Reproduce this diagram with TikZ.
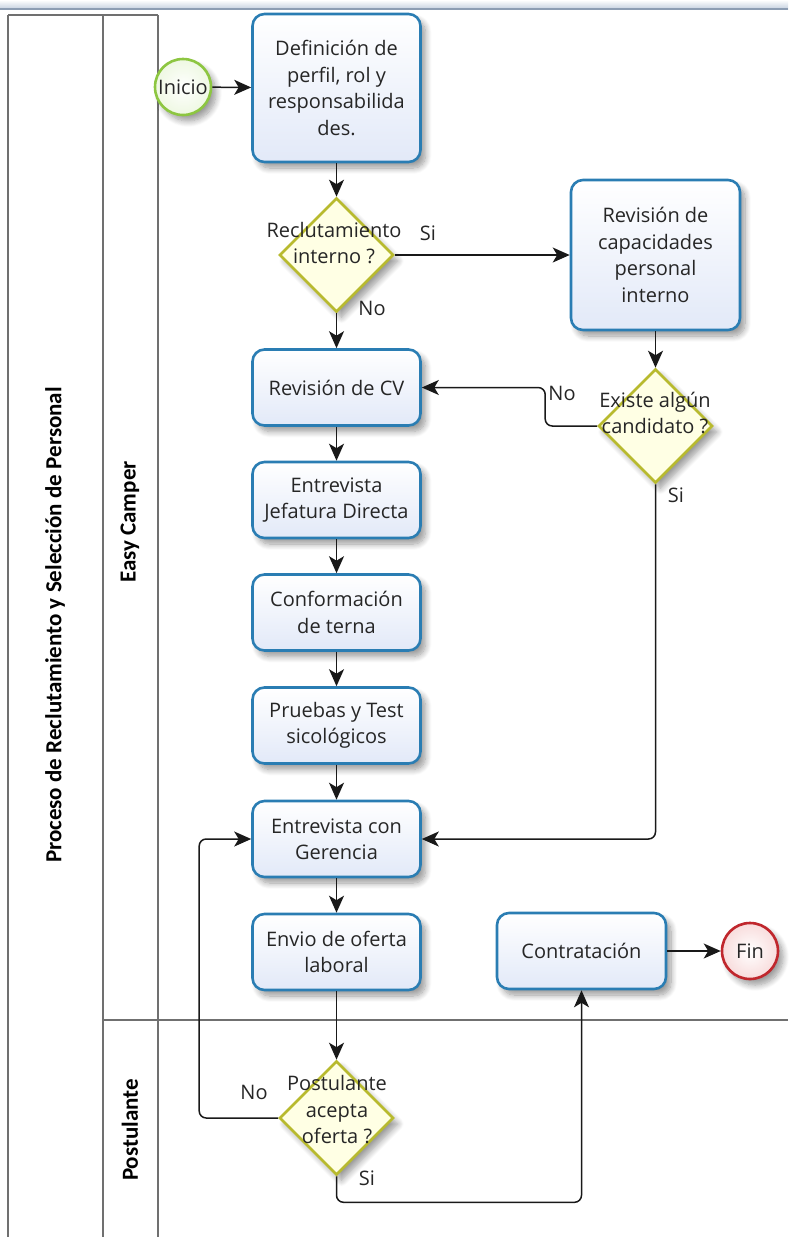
\documentclass[tikz,border=0pt]{standalone}
\usepackage{fontspec}
\setmainfont{Open Sans}
\newfontfamily\lanefont{Carlito}
\usetikzlibrary{shapes.geometric,arrows.meta,shadows.blur}
\definecolor{taskblue}{HTML}{2A7DB3}
\definecolor{taskfill}{HTML}{E2E9F8}
\definecolor{gateline}{HTML}{B8BA2E}
\definecolor{gatefill}{HTML}{FFFFE4}
\definecolor{startline}{HTML}{8DC641}
\definecolor{startfill}{HTML}{EEF8E2}
\definecolor{endline}{HTML}{C0272D}
\definecolor{endfill}{HTML}{F8DCDC}
\definecolor{laneline}{HTML}{707070}
\definecolor{barfill}{HTML}{C4D0DF}
\definecolor{barline}{HTML}{8C9DB3}
\definecolor{ink}{HTML}{262626}
\begin{document}
\begin{tikzpicture}[x=1pt,y=-1pt,
  every node/.style={font=\fontsize{20}{26.5}\selectfont,text=ink},
  soft/.style={blur shadow={shadow xshift=5pt,shadow yshift=-6pt,shadow blur steps=10,shadow blur radius=6pt,shadow opacity=40}},
  task/.style={soft,draw=taskblue,line width=2.6pt,rounded corners=12pt,
    top color=white,bottom color=taskfill,minimum width=168pt,minimum height=76pt,
    align=center,inner sep=2pt},
  gate/.style={soft,shape=diamond,draw=gateline,line width=2.6pt,fill=gatefill,
    minimum width=114pt,minimum height=114pt,inner sep=0pt},
  gatetext/.style={align=center,inner sep=0pt},
  event/.style={soft,circle,line width=2.6pt,minimum size=56pt,inner sep=0pt},
  flow/.style={draw=black!90,line width=1.5pt,rounded corners=7pt,
    -{Stealth[length=17pt,width=15pt,inset=4.5pt]}},
  lane/.style={draw=laneline,line width=1.4pt},
  lanetitle/.style={rotate=90,font=\lanefont\bfseries\fontsize{23}{28}\selectfont,text=black},
  flowlabel/.style={inner sep=0pt}]

\useasboundingbox (0,0) rectangle (788,1237);

% window bar and pool frame
\fill[top color=white,bottom color=barfill] (0,0) rectangle (788,9);
\draw[barline,line width=1.2pt] (0,9) -- (788,9);
\draw[lane] (8,15) -- (158,15);
\draw[lane] (8,15) -- (8,1237);
\draw[lane] (103,15) -- (103,1237);
\draw[lane] (158,15) -- (158,1237);
\draw[lane] (103,1020) -- (788,1020);

% pool and lane titles
\node[lanetitle] (pool) at (55,625) {Proceso de Reclutamiento y Selección de Personal};
\node[lanetitle] (laneA) at (130,522) {Easy Camper};
\node[lanetitle] (laneB) at (130,1130) {Postulante};

% events
\node[event,draw=startline,inner color=white,outer color=startfill] (start) at (183,87) {};
\node (startt) at (183,87) {Inicio};
\node[event,draw=endline,inner color=white,outer color=endfill] (fin) at (750,951) {};
\node (fint) at (750,951) {Fin};

% tasks
\node[task,minimum height=148pt] (def) at (336.5,88) {Definición de\\perfil, rol y\\responsabilida\\des.};
\node[task,minimum width=169pt,minimum height=150pt] (cap) at (655.5,255) {Revisión de\\capacidades\\personal\\interno};
\node[task] (cv)  at (336.5,387.5) {Revisión de CV};
\node[task] (jef) at (336.5,500) {Entrevista\\Jefatura Directa};
\node[task] (ter) at (336.5,612.5) {Conformación\\de terna};
\node[task] (pru) at (336.5,725.5) {Pruebas y Test\\sicológicos};
\node[task] (ger) at (336.5,839) {Entrevista con\\Gerencia};
\node[task] (env) at (336.5,952) {Envio de oferta\\laboral};
\node[task,minimum width=169pt] (con) at (581.5,951) {Contratación};

% gateways
\node[gate] (g1) at (336.5,255) {};
\node[gatetext] (g1t) at (334,243) {Reclutamiento\\interno ?};
\node[gate] (g2) at (655.5,426) {};
\node[gatetext] (g2t) at (655,413) {Existe algún\\candidato ?};
\node[gate] (g3) at (336.5,1118) {};
\node[gatetext] (g3t) at (337,1110) {Postulante\\acepta\\oferta ?};

% sequence flows
\draw[flow] (start) -- (def);
\draw[flow] (def) -- (g1);
\draw[flow] (g1.east) -- (cap.west);
\draw[flow] (g1.south) -- (cv.north);
\draw[flow] (cap.south) -- (g2.north);
\draw[flow] (g2.west) -- ++(-52,0) |- (cv.east);
\draw[flow] (g2.south) |- (ger.east);
\draw[flow] (cv) -- (jef);
\draw[flow] (jef) -- (ter);
\draw[flow] (ter) -- (pru);
\draw[flow] (pru) -- (ger);
\draw[flow] (ger) -- (env);
\draw[flow] (env) -- (g3);
\draw[flow] (g3.west) -- ++(-79,0) |- (ger.west);
\draw[flow] (g3.south) -- ++(0,26) -| (con.south);
\draw[flow] (con) -- (fin);

% flow labels
\node[flowlabel] (s1) at (428,233) {Si};
\node[flowlabel] (n1) at (372,308) {No};
\node[flowlabel] (n2) at (562,393) {No};
\node[flowlabel] (s2) at (676,495) {Si};
\node[flowlabel] (n3) at (254,1092) {No};
\node[flowlabel] (s3) at (367,1178) {Si};
\end{tikzpicture}
\end{document}
